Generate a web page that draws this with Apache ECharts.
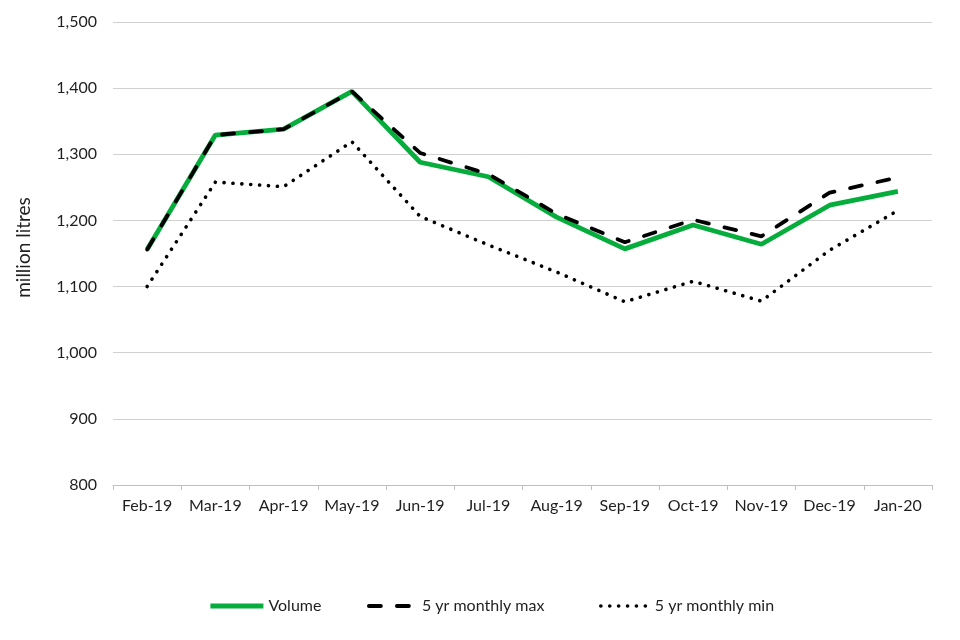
<!DOCTYPE html>
<html>
<head>
<meta charset="utf-8">
<script src="https://cdn.jsdelivr.net/npm/echarts@6/dist/echarts.min.js"></script>
<style>
html,body{margin:0;padding:0;background:#fff;}
#chart{width:960px;height:640px;}
</style>
</head>
<body>
<div id="chart"></div>
<script>
var categories = ['Feb-19','Mar-19','Apr-19','May-19','Jun-19','Jul-19','Aug-19','Sep-19','Oct-19','Nov-19','Dec-19','Jan-20'];
var volume = [1156, 1329, 1338, 1395, 1288, 1266, 1205, 1157, 1193, 1164, 1223, 1244];
var maxVals = [1156, 1329, 1338, 1395, 1302, 1270, 1210, 1167, 1201, 1176, 1242, 1265];
var minVals = [1100, 1258, 1251, 1319, 1206, 1163, 1122, 1077, 1108, 1078, 1155, 1215];
var yTicks = {min: 800, max: 1500, interval: 100};

var FONT = 'Lato, "Open Sans", sans-serif';
var TXT = '#1f1f1f';
var GREEN = '#06AD3C';

function legendCfg(name, left, w) {
  return {
    data: [name], left: left, top: 593, itemWidth: w, itemHeight: 18,
    itemStyle: {opacity: 0},
    lineStyle: {width: 'inherit'},
    textStyle: {fontFamily: FONT, fontSize: 16, color: TXT}
  };
}

var chart = echarts.init(document.getElementById('chart'));
chart.setOption({
  animation: false,
  grid: {left: 113, right: 28, top: 22, bottom: 155},
  legend: [
    legendCfg('Volume', 203, 53),
    legendCfg('5 yr monthly max', 362, 48),
    legendCfg('5 yr monthly min', 594, 49)
  ],
  xAxis: {
    type: 'category',
    data: categories,
    boundaryGap: true,
    axisLine: {lineStyle: {color: '#bfbfbf', width: 1}},
    axisTick: {show: true, interval: 0, length: 5, lineStyle: {color: '#bfbfbf'}},
    axisLabel: {fontFamily: FONT, fontSize: 16, color: TXT, margin: 13, interval: 0}
  },
  yAxis: {
    type: 'value',
    min: yTicks.min, max: yTicks.max, interval: yTicks.interval,
    name: 'million litres',
    nameLocation: 'middle',
    nameGap: 80,
    nameTextStyle: {fontFamily: FONT, fontSize: 19, color: TXT, padding: [0, 0, 0, 12]},
    axisLine: {show: false},
    axisTick: {show: false},
    splitLine: {lineStyle: {color: '#d0d0d0', width: 1}},
    axisLabel: {
      fontFamily: FONT, fontSize: 16, color: TXT, margin: 16,
      formatter: function (v) { return v.toLocaleString('en-US'); }
    }
  },
  series: [
    {name: 'Volume', type: 'line', data: volume, symbol: 'none', z: 2,
     lineStyle: {color: GREEN, width: 4.8}, itemStyle: {color: GREEN}},
    {name: '5 yr monthly max', type: 'line', data: maxVals, symbol: 'none', z: 3,
     lineStyle: {color: '#000', width: 3.8, type: [12, 16], cap: 'round'}, itemStyle: {color: '#000'}},
    {name: '5 yr monthly min', type: 'line', data: minVals, symbol: 'none', z: 3,
     lineStyle: {color: '#000', width: 3.6, type: [0.1, 8.8], cap: 'round'}, itemStyle: {color: '#000'}}
  ]
});
</script>
</body>
</html>
